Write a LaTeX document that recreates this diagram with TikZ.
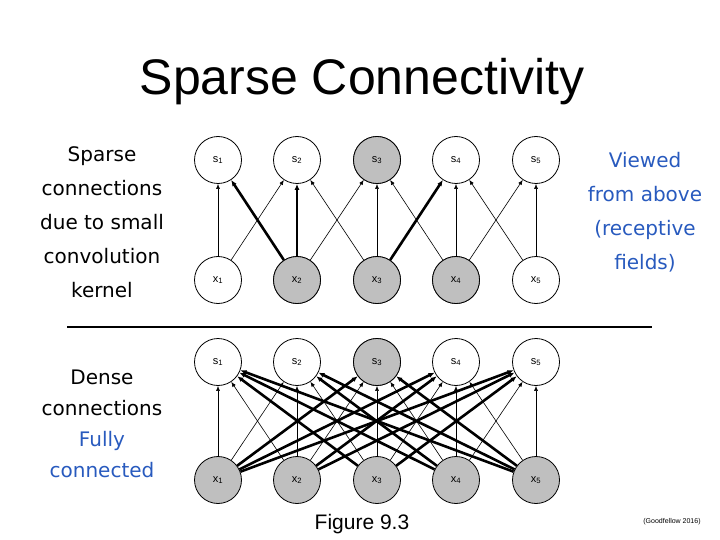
\documentclass[tikz,border=0pt]{standalone}
\usepackage{fontspec}
\setmainfont{Liberation Sans}
\newfontfamily\verd{DejaVu Sans}
\definecolor{capblue}{RGB}{40,90,190}
\tikzset{
  unit/.style={circle,draw,thick,minimum size=47pt,inner sep=0pt,font=\fontsize{11}{11}\selectfont},
  hot/.style={unit,fill=black!25},
  thin/.style={-{Latex[length=5pt,width=4pt]},line width=0.6pt},
  bold/.style={-{Latex[length=6pt,width=5pt]},line width=2.6pt},
  side/.style={font=\verd\fontsize{20}{34}\selectfont,align=center}
}
\usetikzlibrary{arrows.meta}
\begin{document}
\begin{tikzpicture}[x=1pt,y=-1pt]
\useasboundingbox (0,0) rectangle (720,540);
\node[font=\fontsize{50}{50}\selectfont] (title) at (362,82) {Sparse Connectivity};
\node[side] (sparse) at (102,222) {Sparse\\connections\\due to small\\convolution\\kernel};
\node[side,text=capblue] (above) at (645,212) {Viewed\\from above\\(receptive\\fields)};
\node[side,font=\verd\fontsize{20}{31}\selectfont] (dense) at (102,424) {Dense\\connections\\\textcolor{capblue}{Fully}\\\textcolor{capblue}{connected}};
\coordinate (ruleL) at (67,327);
\coordinate (ruleR) at (652,327);
\draw[line width=2.5pt] (ruleL) -- (ruleR);
\node[font=\fontsize{21}{21}\selectfont] (fig) at (362,524) {Figure 9.3};
\node[font=\fontsize{7}{7}\selectfont] (cite) at (672,522) {(Goodfellow 2016)};
% sparse layer
\foreach \i/\x in {1/218,2/297,3/377,4/456,5/536} {
  \node[unit] (ts\i) at (\x,160) {s\textsubscript{\i}};
  \node[unit] (tx\i) at (\x,280) {x\textsubscript{\i}};
  \node[unit] (bs\i) at (\x,362) {s\textsubscript{\i}};
  \node[hot] (bx\i) at (\x,480) {x\textsubscript{\i}};
}
\foreach \i in {2,3,4} \node[hot] at (tx\i) {x\textsubscript{\i}};
\node[hot] at (ts3) {s\textsubscript{3}};
\node[hot] at (bs3) {s\textsubscript{3}};
\foreach \a/\b in {1/1,1/2,2/3,3/2,3/3,4/3,4/4,4/5,5/4,5/5}
  \draw[thin] (tx\a) -- (ts\b);
\foreach \a/\b in {2/1,2/2,3/4}
  \draw[bold] (tx\a) -- (ts\b);
% dense layer
\foreach \a in {1,...,5}
  \foreach \b in {1,...,5} {
    \pgfmathtruncatemacro\d{abs(\a-\b)}
    \ifnum\d>1 \draw[bold] (bx\a) -- (bs\b);
    \else \draw[thin] (bx\a) -- (bs\b); \fi
  }
\end{tikzpicture}
\end{document}
